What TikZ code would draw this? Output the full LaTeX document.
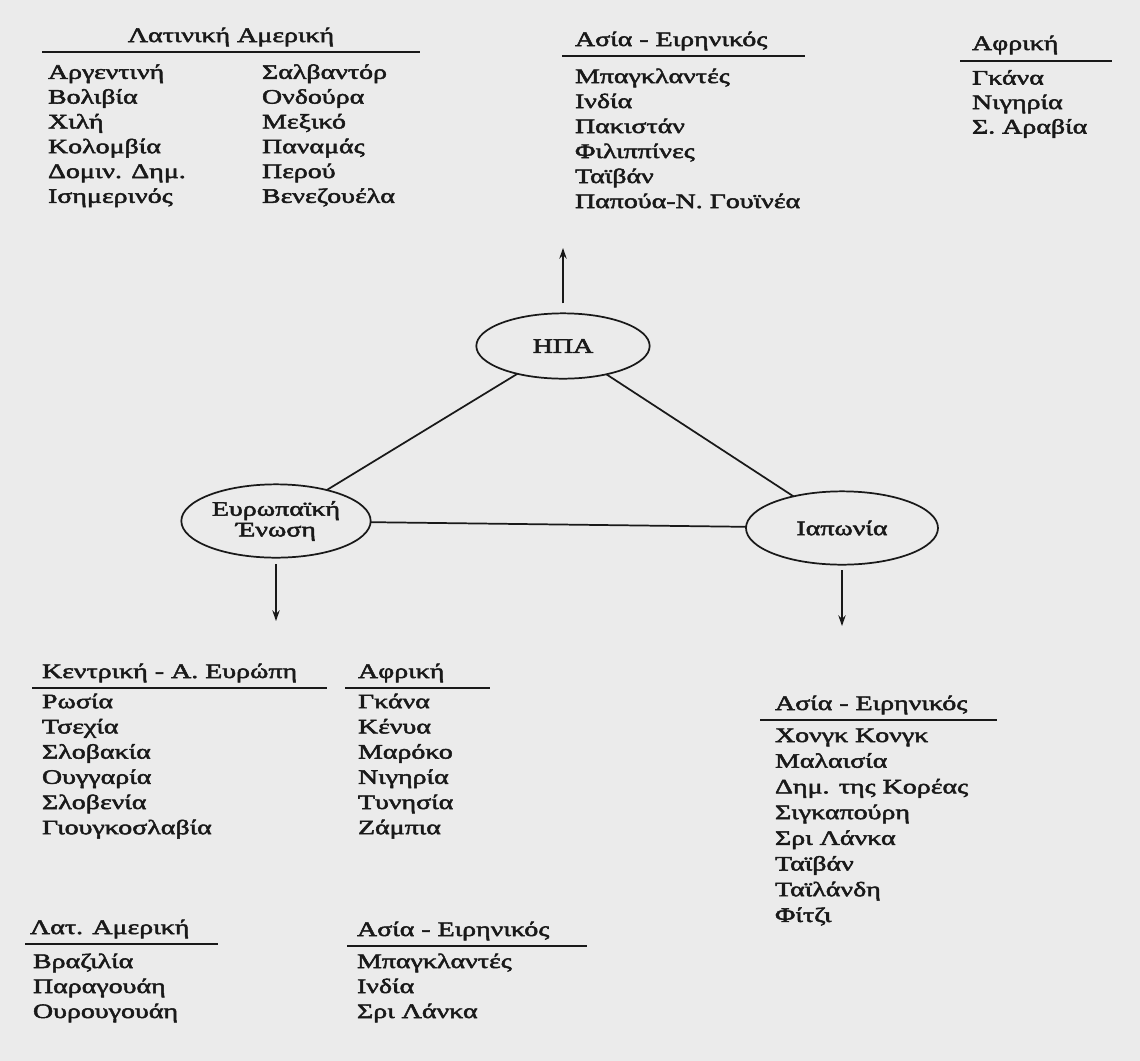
\documentclass[tikz,border=0pt]{standalone}
\usepackage{fontspec}
\setmainfont{Liberation Serif}[FakeStretch=1.36,FakeBold=2.5]
\usetikzlibrary{shapes.geometric,arrows.meta}
\definecolor{paper}{RGB}{235,235,235}
\definecolor{ink}{RGB}{25,25,25}
\begin{document}
\begin{tikzpicture}[x=0.75pt,y=-0.75pt,
  txt/.style={inner sep=0pt, outer sep=0pt, text=ink, font=\fontsize{15.4}{15.5}\selectfont},
  item/.style={txt, anchor=base west},
  headc/.style={txt, anchor=base},
  uline/.style={draw=ink, line width=1.5pt},
  bubble/.style={ellipse, draw=ink, line width=1.3pt, inner sep=0pt, align=center, txt},
  link/.style={draw=ink, line width=1.3pt},
  outarrow/.style={draw=ink, line width=1.2pt, -{Stealth[length=8pt,width=5.5pt]}}
]
\fill[paper] (0,0) rectangle (1140,1061);
\useasboundingbox (0,0) rectangle (1140,1061);

% ---------- top left: Latin America ----------
\node[headc] (hla) at (231,42) {Λατινική Αμερική};
\draw[uline] (42,52) -- (420,52);
\foreach \t [count=\i] in {Αργεντινή,Βολιβία,Χιλή,Κολομβία,Δομιν. Δημ.,Ισημερινός}
  \node[item] (laa\i) at (48,{54+24.8*\i}) {\t};
\foreach \t [count=\i] in {Σαλβαντόρ,Ονδούρα,Μεξικό,Παναμάς,Περού,Βενεζουέλα}
  \node[item] (lab\i) at (262,{54+24.8*\i}) {\t};

% ---------- top middle: Asia-Pacific ----------
\node[item] (has) at (575,46) {Ασία - Ειρηνικός};
\draw[uline] (562,56) -- (805,56);
\foreach \t [count=\i] in {Μπαγκλαντές,Ινδία,Πακιστάν,Φιλιππίνες,Ταϊβάν,Παπούα-Ν. Γουϊνέα}
  \node[item] (as\i) at (575,{58+25*\i}) {\t};

% ---------- top right: Africa ----------
\node[item] (haf) at (972,50) {Αφρική};
\draw[uline] (960,61) -- (1112,61);
\foreach \t [count=\i] in {Γκάνα,Νιγηρία,Σ. Αραβία}
  \node[item] (af\i) at (972,{60+24.5*\i}) {\t};

% ---------- triangle ----------
\node[bubble, minimum width=130pt, minimum height=49pt] (usa) at (563,346) {ΗΠΑ};
\node[bubble, minimum width=142pt, minimum height=55pt] (eu) at (276,521) {Ευρωπαϊκή\\Ένωση};
\node[bubble, minimum width=144pt, minimum height=55pt] (jp) at (842,528) {Ιαπωνία};
\draw[link] (usa) -- (eu);
\draw[link] (usa) -- (jp);
\draw[link] (eu) -- (jp);
\coordinate (usatip) at (563,248);
\coordinate (eutip) at (276,621);
\coordinate (jptip) at (842,626);
\draw[outarrow] ([yshift=7.5pt]usa.north) -- (usatip);
\draw[outarrow] ([yshift=-5pt]eu.south) -- (eutip);
\draw[outarrow] ([yshift=-4pt]jp.south) -- (jptip);

% ---------- bottom left: Central-East Europe ----------
\node[item] (hce) at (42,678) {Κεντρική - Α. Ευρώπη};
\draw[uline] (32,688) -- (327,688);
\foreach \t [count=\i] in {Ρωσία,Τσεχία,Σλοβακία,Ουγγαρία,Σλοβενία,Γιουγκοσλαβία}
  \node[item] (ce\i) at (42,{683+25.2*\i}) {\t};

% ---------- bottom: Africa ----------
\node[item] (haf2) at (358,678) {Αφρική};
\draw[uline] (345,688) -- (490,688);
\foreach \t [count=\i] in {Γκάνα,Κένυα,Μαρόκο,Νιγηρία,Τυνησία,Ζάμπια}
  \node[item] (afb\i) at (358,{683+25.2*\i}) {\t};

% ---------- bottom right: Asia-Pacific ----------
\node[item] (has2) at (775,710) {Ασία - Ειρηνικός};
\draw[uline] (760,720) -- (997,720);
\foreach \t [count=\i] in {Χονγκ Κονγκ,Μαλαισία,Δημ. της Κορέας,Σιγκαπούρη,Σρι Λάνκα,Ταϊβάν,Ταϊλάνδη,Φίτζι}
  \node[item] (asb\i) at (775,{716.3+25.7*\i}) {\t};

% ---------- bottom: Lat. America ----------
\node[item] (hlat) at (30,934) {Λατ. Αμερική};
\draw[uline] (25,944) -- (218,944);
\foreach \t [count=\i] in {Βραζιλία,Παραγουάη,Ουρουγουάη}
  \node[item] (lat\i) at (33,{943+25*\i}) {\t};

% ---------- bottom: Asia-Pacific ----------
\node[item] (has3) at (357,936) {Ασία - Ειρηνικός};
\draw[uline] (347,946) -- (587,946);
\foreach \t [count=\i] in {Μπαγκλαντές,Ινδία,Σρι Λάνκα}
  \node[item] (asc\i) at (357,{943+25*\i}) {\t};
\end{tikzpicture}
\end{document}
